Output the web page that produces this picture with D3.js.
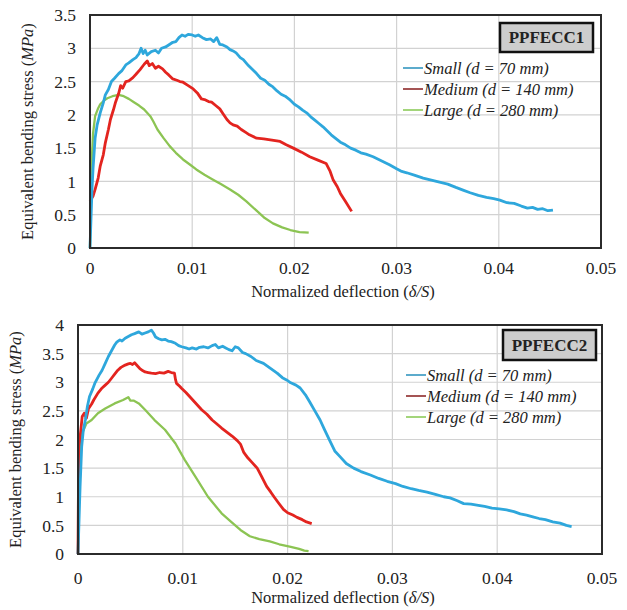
<!DOCTYPE html>
<html>
<head>
<meta charset="utf-8">
<script src="https://cdn.jsdelivr.net/npm/d3@7"></script>
<style>
  body { margin: 0; background: #fff; }
</style>
</head>
<body>
<div id="chart"></div>
<script>
// values, [deflection, stress]
const xTicks = [0, 0.01, 0.02, 0.03, 0.04, 0.05];
const yTicksTop = [0, 0.5, 1, 1.5, 2, 2.5, 3, 3.5];
const yTicksBottom = [0, 0.5, 1, 1.5, 2, 2.5, 3, 3.5, 4];
const seriesNames = ['Small (d = 70 mm)', 'Medium (d = 140 mm)', 'Large (d = 280 mm)'];
const panelTitles = ['PPFECC1', 'PPFECC2'];

const topSmall = [
    [0, 0], [0.0001, 0.45], [0.0002, 0.9], [0.0003, 1.2], [0.0005, 1.65], [0.0007, 1.85], [0.001, 2.03],
    [0.0013, 2.18], [0.0015, 2.3], [0.0018, 2.38], [0.0021, 2.5], [0.0024, 2.55], [0.0028, 2.62],
    [0.0031, 2.66], [0.0035, 2.75], [0.0038, 2.78], [0.0042, 2.83], [0.0045, 2.86], [0.0048, 2.92],
    [0.005, 3.0], [0.0052, 2.92], [0.0054, 2.97], [0.0056, 2.9], [0.006, 2.95], [0.0064, 2.97],
    [0.0067, 2.93], [0.007, 3.0], [0.0074, 3.02], [0.0077, 3.05], [0.0081, 3.09], [0.0084, 3.1],
    [0.0087, 3.16], [0.009, 3.2], [0.0093, 3.18], [0.0096, 3.21], [0.01, 3.2], [0.0103, 3.18],
    [0.0106, 3.2], [0.011, 3.16], [0.0114, 3.13], [0.0118, 3.14], [0.0121, 3.1], [0.0124, 3.16],
    [0.0127, 3.06], [0.013, 3.05], [0.0134, 3.02], [0.0137, 2.98], [0.014, 2.96], [0.0143, 2.93],
    [0.0147, 2.86], [0.015, 2.83], [0.0155, 2.74], [0.0159, 2.68], [0.0163, 2.62], [0.0167, 2.55],
    [0.0171, 2.52], [0.0175, 2.46], [0.0179, 2.42], [0.0183, 2.36], [0.0187, 2.31], [0.0191, 2.28],
    [0.0196, 2.22], [0.02, 2.16], [0.0204, 2.12], [0.0208, 2.07], [0.0212, 2.03], [0.0216, 1.97],
    [0.022, 1.92], [0.0224, 1.87], [0.0228, 1.82], [0.0232, 1.76], [0.0236, 1.7], [0.024, 1.65],
    [0.0245, 1.59], [0.025, 1.55], [0.0255, 1.5], [0.026, 1.47], [0.0265, 1.43], [0.027, 1.41],
    [0.0277, 1.37], [0.0285, 1.31], [0.0293, 1.25], [0.03, 1.19], [0.0305, 1.15], [0.031, 1.13],
    [0.0318, 1.09], [0.0326, 1.05], [0.0334, 1.02], [0.0342, 0.99], [0.035, 0.96], [0.0358, 0.91],
    [0.0365, 0.87], [0.0372, 0.83], [0.038, 0.79], [0.0388, 0.76], [0.0395, 0.74], [0.0401, 0.72],
    [0.0408, 0.68], [0.0415, 0.67], [0.0422, 0.63], [0.0428, 0.6], [0.0433, 0.61], [0.0438, 0.58],
    [0.0443, 0.59], [0.0448, 0.56], [0.0453, 0.57]
];
const topMedium = [
    [0, 0.7], [0.0003, 0.78], [0.0005, 0.88], [0.0008, 1.05], [0.001, 1.23], [0.0013, 1.4], [0.0015, 1.58],
    [0.0018, 1.78], [0.002, 1.93], [0.0023, 2.08], [0.0025, 2.19], [0.0028, 2.32], [0.003, 2.44],
    [0.0032, 2.4], [0.0035, 2.5], [0.0038, 2.51], [0.0042, 2.56], [0.0045, 2.61], [0.0049, 2.68],
    [0.0053, 2.76], [0.0056, 2.81], [0.0058, 2.74], [0.0061, 2.77], [0.0064, 2.7], [0.0067, 2.73],
    [0.0071, 2.69], [0.0074, 2.64], [0.0077, 2.6], [0.0081, 2.54], [0.0085, 2.52], [0.0088, 2.5],
    [0.0091, 2.49], [0.0095, 2.45], [0.0098, 2.42], [0.0101, 2.39], [0.0105, 2.33], [0.0109, 2.24],
    [0.0112, 2.23], [0.0116, 2.2], [0.0119, 2.19], [0.0123, 2.14], [0.0127, 2.09], [0.013, 2.02],
    [0.0134, 1.93], [0.0137, 1.88], [0.014, 1.85], [0.0144, 1.83], [0.0148, 1.78], [0.0152, 1.74],
    [0.0156, 1.7], [0.0163, 1.65], [0.017, 1.64], [0.0178, 1.62], [0.0186, 1.6], [0.0192, 1.55],
    [0.0199, 1.5], [0.0207, 1.44], [0.0215, 1.37], [0.0223, 1.32], [0.0231, 1.27], [0.0235, 1.15],
    [0.0238, 1.02], [0.0242, 0.92], [0.0245, 0.82], [0.025, 0.7], [0.0256, 0.55]
];
const topLarge = [
    [0, 0], [0.0001, 0.8], [0.0002, 1.4], [0.0003, 1.72], [0.0005, 1.98], [0.0008, 2.1], [0.001, 2.16],
    [0.0014, 2.22], [0.0017, 2.25], [0.0022, 2.28], [0.0028, 2.3], [0.0033, 2.28], [0.0038, 2.24],
    [0.0043, 2.19], [0.0048, 2.14], [0.0053, 2.08], [0.0059, 1.98], [0.0062, 1.9], [0.0066, 1.78],
    [0.0072, 1.65], [0.0078, 1.53], [0.0084, 1.43], [0.0091, 1.33], [0.0098, 1.25], [0.0104, 1.18],
    [0.0112, 1.1], [0.012, 1.03], [0.0128, 0.96], [0.0137, 0.88], [0.0145, 0.8], [0.0153, 0.7],
    [0.0163, 0.56], [0.0171, 0.45], [0.0179, 0.37], [0.0188, 0.31], [0.0196, 0.27], [0.0205, 0.24],
    [0.0214, 0.23]
];

const bottomSmall = [
    [0, 0], [0.0001, 0.6], [0.0002, 1.18], [0.00035, 1.87], [0.0005, 2.15], [0.0007, 2.34], [0.0009, 2.58],
    [0.0011, 2.75], [0.0014, 2.88], [0.0016, 2.98], [0.002, 3.12], [0.0023, 3.21], [0.0026, 3.33],
    [0.0029, 3.45], [0.0032, 3.55], [0.0035, 3.65], [0.0037, 3.7], [0.004, 3.74], [0.0042, 3.72],
    [0.0045, 3.77], [0.0048, 3.8], [0.0051, 3.83], [0.0054, 3.85], [0.0058, 3.88], [0.0061, 3.84],
    [0.0064, 3.86], [0.0067, 3.88], [0.007, 3.91], [0.0072, 3.86], [0.0074, 3.79], [0.0077, 3.76],
    [0.008, 3.74], [0.0083, 3.75], [0.0086, 3.72], [0.0089, 3.71], [0.0093, 3.68], [0.0096, 3.64],
    [0.0099, 3.62], [0.0103, 3.6], [0.0106, 3.58], [0.0109, 3.6], [0.0113, 3.58], [0.0116, 3.61],
    [0.012, 3.62], [0.0124, 3.6], [0.0128, 3.64], [0.0131, 3.66], [0.0134, 3.6], [0.0138, 3.63],
    [0.0141, 3.6], [0.0144, 3.57], [0.0147, 3.55], [0.015, 3.62], [0.0153, 3.6], [0.0157, 3.52],
    [0.016, 3.5], [0.0165, 3.45], [0.017, 3.38], [0.0177, 3.33], [0.0183, 3.25], [0.019, 3.16],
    [0.0195, 3.08], [0.0199, 3.04], [0.0203, 2.99], [0.0208, 2.95], [0.0212, 2.9], [0.0217, 2.78],
    [0.0221, 2.66], [0.0226, 2.5], [0.0231, 2.34], [0.0235, 2.18], [0.024, 1.99], [0.0245, 1.8],
    [0.025, 1.7], [0.0256, 1.58], [0.0263, 1.5], [0.027, 1.44], [0.0279, 1.38], [0.0287, 1.32],
    [0.0295, 1.27], [0.0303, 1.23], [0.031, 1.18], [0.0318, 1.14], [0.0325, 1.11], [0.0333, 1.08],
    [0.0341, 1.04], [0.0349, 1.0], [0.0355, 0.98], [0.0362, 0.93], [0.0368, 0.88], [0.0375, 0.87],
    [0.0382, 0.85], [0.0388, 0.83], [0.0395, 0.8], [0.0402, 0.79], [0.0409, 0.77], [0.0416, 0.74],
    [0.0422, 0.7], [0.0428, 0.68], [0.0434, 0.65], [0.044, 0.62], [0.0446, 0.6], [0.0453, 0.56],
    [0.046, 0.54], [0.0466, 0.5], [0.0471, 0.48]
];
const bottomMedium = [
    [0, 0], [0.00003, 0.8], [0.00006, 1.47], [0.0001, 1.87], [0.0003, 2.22], [0.0004, 2.4], [0.0006, 2.46],
    [0.0008, 2.37], [0.001, 2.54], [0.0013, 2.62], [0.0015, 2.69], [0.0019, 2.81], [0.0023, 2.9],
    [0.0026, 2.95], [0.0029, 3.0], [0.0032, 3.07], [0.0035, 3.14], [0.0038, 3.21], [0.0041, 3.26],
    [0.0045, 3.3], [0.0048, 3.32], [0.005, 3.33], [0.0052, 3.31], [0.0054, 3.34], [0.0057, 3.28],
    [0.0059, 3.24], [0.0062, 3.2], [0.0064, 3.18], [0.0067, 3.17], [0.007, 3.16], [0.0074, 3.15],
    [0.0078, 3.17], [0.0082, 3.16], [0.0086, 3.19], [0.0089, 3.17], [0.0092, 3.16], [0.0093, 3.05],
    [0.0094, 2.98], [0.0097, 2.93], [0.0099, 2.89], [0.0103, 2.82], [0.0108, 2.72], [0.0113, 2.62],
    [0.0118, 2.52], [0.0123, 2.44], [0.0128, 2.34], [0.0132, 2.28], [0.0137, 2.2], [0.0142, 2.13],
    [0.0147, 2.06], [0.0152, 1.98], [0.0155, 1.92], [0.0158, 1.78], [0.0162, 1.68], [0.0166, 1.6],
    [0.0171, 1.5], [0.0175, 1.36], [0.018, 1.18], [0.0184, 1.08], [0.0187, 1.0], [0.0191, 0.9],
    [0.0196, 0.78], [0.02, 0.72], [0.0205, 0.68], [0.0209, 0.64], [0.0214, 0.6], [0.0218, 0.56],
    [0.0223, 0.53]
];
const bottomLarge = [
    [0, 0], [0.00005, 0.6], [0.0001, 1.18], [0.0002, 1.76], [0.0004, 2.11], [0.0008, 2.28], [0.0013, 2.34],
    [0.0019, 2.46], [0.0026, 2.54], [0.0035, 2.63], [0.0043, 2.69], [0.0048, 2.74], [0.005, 2.68],
    [0.0053, 2.68], [0.0058, 2.63], [0.0064, 2.52], [0.0073, 2.34], [0.0083, 2.17], [0.0093, 1.93],
    [0.0102, 1.64], [0.0112, 1.35], [0.0124, 1.0], [0.0137, 0.71], [0.0147, 0.55], [0.0155, 0.42],
    [0.0164, 0.31], [0.0173, 0.26], [0.0183, 0.22], [0.0192, 0.17], [0.0202, 0.13], [0.0211, 0.09],
    [0.0216, 0.06], [0.022, 0.05]
];

const lineColors = ['#2ea7dc', '#e3241f', '#8cc453'];
const lineWidths = [2.8, 2.8, 2.3];
const legendColors = ['#3496c0', '#8e2a2a', '#8ccb5a'];
const font = "'Liberation Serif', 'Times New Roman', Times, 'DejaVu Serif', serif";

const W = 627, H = 610;

const svg = d3.select('#chart').append('svg')
    .attr('width', W)
    .attr('height', H)
    .attr('font-family', font)
    .style('font-family', font);

const panels = [
    {
        title: panelTitles[0], series: [topSmall, topMedium, topLarge], yTicks: yTicksTop, yMax: 3.5,
        left: 90, right: 601, top: 15, bottom: 248,
        yTitleX: 33, tickLabelX: 76, xLabelY: 274, xTitleY: 297,
        box: { x: 500, y: 23, w: 93, h: 29 }, legendX: 403, legendY: 68, legendStep: 21
    },
    {
        title: panelTitles[1], series: [bottomSmall, bottomMedium, bottomLarge], yTicks: yTicksBottom, yMax: 4,
        left: 78, right: 602, top: 325, bottom: 554,
        yTitleX: 21, tickLabelX: 64, xLabelY: 584, xTitleY: 603,
        box: { x: 503, y: 330, w: 93, h: 30 }, legendX: 406, legendY: 375, legendStep: 21
    }
];

panels.forEach(p => drawPanel(p));

function drawPanel(p) {
    const x = d3.scaleLinear().domain([0, 0.05]).range([p.left, p.right]);
    const y = d3.scaleLinear().domain([0, p.yMax]).range([p.bottom, p.top]);
    const g = svg.append('g').attr('fill', '#222');

    // grid
    g.append('g')
        .selectAll('line')
        .data(p.yTicks)
        .join('line')
        .attr('x1', p.left).attr('x2', p.right)
        .attr('y1', d => y(d)).attr('y2', d => y(d))
        .attr('stroke', '#d2d2d2').attr('stroke-width', 1.2);
    g.append('g')
        .selectAll('line')
        .data(xTicks)
        .join('line')
        .attr('x1', d => x(d)).attr('x2', d => x(d))
        .attr('y1', p.top).attr('y2', p.bottom)
        .attr('stroke', '#d2d2d2').attr('stroke-width', 1.2);

    // tick labels
    g.append('g')
        .selectAll('text')
        .data(p.yTicks)
        .join('text')
        .attr('x', p.tickLabelX)
        .attr('y', d => y(d))
        .attr('dy', '0.35em')
        .attr('text-anchor', 'end')
        .attr('font-size', 17.5)
        .text(d => d);
    g.append('g')
        .selectAll('text')
        .data(xTicks)
        .join('text')
        .attr('x', d => x(d))
        .attr('y', p.xLabelY)
        .attr('text-anchor', 'middle')
        .attr('font-size', 17.5)
        .text(d => d);

    // curves, large drawn first so small ends up on top
    const line = d3.line().x(d => x(d[0])).y(d => y(d[1]));
    g.append('g')
        .selectAll('path')
        .data(p.series.map((s, i) => ({ s, i })).reverse())
        .join('path')
        .attr('d', d => line(d.s))
        .attr('fill', 'none')
        .attr('stroke', d => lineColors[d.i])
        .attr('stroke-width', d => lineWidths[d.i])
        .attr('stroke-linejoin', 'round');

    // frame
    g.append('rect')
        .attr('x', p.left).attr('y', p.top)
        .attr('width', p.right - p.left).attr('height', p.bottom - p.top)
        .attr('fill', 'none').attr('stroke', '#2b2b2b').attr('stroke-width', 2);

    // axis titles
    const yt = g.append('text')
        .attr('transform', `translate(${p.yTitleX},${(p.top + p.bottom) / 2}) rotate(-90)`)
        .attr('text-anchor', 'middle')
        .attr('font-size', 16.5);
    yt.append('tspan').text('Equivalent bending stress (');
    yt.append('tspan').attr('font-style', 'italic').text('MPa');
    yt.append('tspan').text(')');

    const xt = g.append('text')
        .attr('x', 343).attr('y', p.xTitleY)
        .attr('text-anchor', 'middle')
        .attr('font-size', 16.5);
    xt.append('tspan').text('Normalized deflection (');
    xt.append('tspan').attr('font-style', 'italic').text('δ/S');
    xt.append('tspan').text(')');

    // title box
    g.append('rect')
        .attr('x', p.box.x).attr('y', p.box.y)
        .attr('width', p.box.w).attr('height', p.box.h)
        .attr('fill', '#cdcdcd').attr('stroke', '#111').attr('stroke-width', 2.5);
    g.append('text')
        .attr('x', p.box.x + p.box.w / 2).attr('y', p.box.y + p.box.h / 2)
        .attr('dy', '0.35em')
        .attr('text-anchor', 'middle')
        .attr('font-size', 17).attr('font-weight', 'bold')
        .text(p.title);

    // legend
    const lg = g.append('g')
        .selectAll('g')
        .data(seriesNames)
        .join('g')
        .attr('transform', (d, i) => `translate(${p.legendX},${p.legendY + i * p.legendStep})`);
    lg.append('line')
        .attr('x1', 0).attr('x2', 20)
        .attr('stroke', (d, i) => legendColors[i]).attr('stroke-width', 1.6);
    lg.append('text')
        .attr('x', 21).attr('dy', '0.35em')
        .attr('font-size', 16.5).attr('font-style', 'italic')
        .text(d => d);
}
</script>
</body>
</html>
